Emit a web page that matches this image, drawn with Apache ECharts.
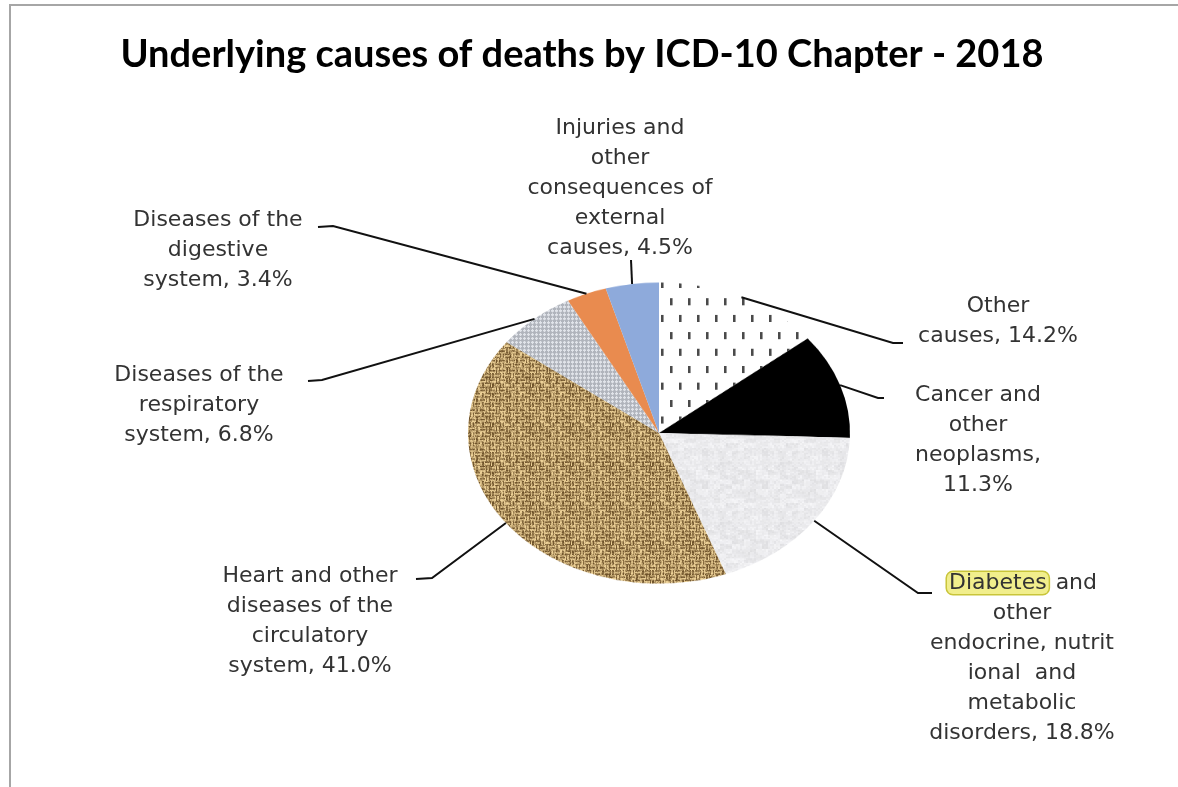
<!DOCTYPE html>
<html><head><meta charset="utf-8">
<script src="https://cdn.jsdelivr.net/npm/echarts@6/dist/echarts.min.js"></script>
<style>
html,body{margin:0;padding:0;background:#fff;width:1178px;height:787px;overflow:hidden;}
#frame{position:absolute;left:9px;top:4px;width:1200px;height:800px;border-top:2px solid #a6a6a6;border-left:2px solid #a6a6a6;}
#pie{position:absolute;left:0;top:0;width:1178px;height:787px;transform-origin:659px 433px;transform:scaleY(0.788);}
#labels{position:absolute;left:0;top:0;width:1178px;height:787px;}
</style></head><body>
<div id="frame"></div><div id="pie"></div><div id="labels"></div>
<script>
// ---- data ----
const titleText = 'Underlying causes of deaths by ICD-10 Chapter - 2018';
const categories = [
  'Other causes',
  'Cancer and other neoplasms',
  'Diabetes and other endocrine, nutritional and metabolic disorders',
  'Heart and other diseases of the circulatory system',
  'Diseases of the respiratory system',
  'Diseases of the digestive system',
  'Injuries and other consequences of external causes'
];
const values = [14.2, 11.3, 18.8, 41.0, 6.8, 3.4, 4.5];
const labelWraps = [
  'Other\ncauses',
  'Cancer and\nother\nneoplasms',
  '{hl|Diabetes} and\nother\nendocrine, nutrit\nional  and\nmetabolic\ndisorders',
  'Heart and other\ndiseases of the\ncirculatory\nsystem',
  'Diseases of the\nrespiratory\nsystem',
  'Diseases of the\ndigestive\nsystem',
  'Injuries and\nother\nconsequences of\nexternal\ncauses'
];
const valueSeps = [' ', '\n', ' ', ' ', ' ', ' ', ' '];

// ---- layout (positions only) ----
const CX = 659, CY = 433, R = 191, K = 0.788;
const labelPlaces = [
  {x: 998, y: 291, elbow: [893, 343], end: [903, 343]},
  {x: 978, y: 380, elbow: [878, 398], end: [884, 398]},
  {x: 1022, y: 568, elbow: [918, 593], end: [932, 593]},
  {x: 310, y: 561, elbow: [432, 578], end: [416, 579]},
  {x: 199, y: 360, elbow: [322, 380], end: [308, 381]},
  {x: 218, y: 205, elbow: [333, 226], end: [318, 227]},
  {x: 620, y: 113, elbow: [631, 260], end: [631, 260]}
];

// ---- texture fills ----
function hash(x, y) { const s = Math.sin(x * 12.9898 + y * 78.233) * 43758.5453; return s - Math.floor(s); }
function makeCanvas(w, h, draw) { const c = document.createElement('canvas'); c.width = w; c.height = h; draw(c.getContext('2d'), w, h); return c; }
function px(g, x, y, r, gg, b) { g.fillStyle = 'rgb(' + (r|0) + ',' + (gg|0) + ',' + (b|0) + ')'; g.fillRect(x, y, 1, 1); }

const dotted = makeCanvas(18, 43, (g, w, h) => {
  g.fillStyle = '#fff'; g.fillRect(0, 0, w, h);
  g.fillStyle = '#4a4a4a'; g.fillRect(4, 4, 2, 9); g.fillRect(13, 25, 2, 9);
  g.fillStyle = '#9a9a9a'; g.fillRect(6, 4, 1, 9); g.fillRect(15, 25, 1, 9);
});
const burlap = makeCanvas(40, 50, (g, w, h) => {
  for (let y = 0; y < h; y++) for (let x = 0; x < w; x++) {
    const bx = Math.floor(x / 5), by = Math.floor(y / 6.25);
    let t;
    if ((bx + by) % 2 === 0) t = (Math.floor(y / 2.1) % 2 === 0) ? 1 : 0.3;
    else t = (Math.floor(x / 1.7) % 2 === 0) ? 1 : 0.3;
    const n = hash(x, y) * 0.6 - 0.35 + (hash(Math.floor(x / 4), Math.floor(y / 5)) - 0.5) * 0.3;
    const f = Math.max(0, Math.min(1, t * 0.85 + n));
    px(g, x, y, 110 + f * 128, 82 + f * 128, 42 + f * 110);
  }
});
const speckle = makeCanvas(60, 76, (g, w, h) => {
  for (let y = 0; y < h; y += 2) for (let x = 0; x < w; x += 2) {
    const v = 222 + (hash(x * 0.37, y * 0.53) + hash(Math.floor(x / 6), Math.floor(y / 6))) * 13;
    g.fillStyle = 'rgb(' + (v|0) + ',' + (v|0) + ',' + Math.min(255, v + 2) + ')';
    g.fillRect(x, y, 2, 2);
  }
});
const checker = makeCanvas(8, 10, (g, w, h) => {
  for (let y = 0; y < h; y++) for (let x = 0; x < w; x++) {
    const yy = y * 0.8;
    const a = Math.floor((x + yy) / 4), b = Math.floor((x - yy + 16) / 4);
    if ((a + b) % 2 === 0) px(g, x, y, 176, 180, 188); else px(g, x, y, 224, 227, 233);
  }
});
const fills = [
  {image: dotted, repeat: 'repeat'},
  '#000000',
  {image: speckle, repeat: 'repeat'},
  {image: burlap, repeat: 'repeat'},
  {image: checker, repeat: 'repeat'},
  '#e98b4f',
  '#8eaadb'
];

// ---- pie (drawn in a vertically squashed layer to get the tilted ellipse) ----
const pieChart = echarts.init(document.getElementById('pie'), null, {renderer: 'canvas'});
pieChart.setOption({
  animation: false,
  series: [{
    type: 'pie', center: [CX, CY], radius: R, startAngle: 90, clockwise: true,
    silent: true, avoidLabelOverlap: false,
    label: {show: false}, labelLine: {show: false},
    itemStyle: {borderWidth: 0},
    data: categories.map((n, i) => ({name: n, value: values[i], itemStyle: {color: fills[i]}}))
  }]
});

// ---- title + labels layer ----
const labelChart = echarts.init(document.getElementById('labels'), null, {renderer: 'canvas'});
labelChart.setOption({
  animation: false,
  graphic: [{
    type: 'text', x: 582, y: 55, silent: true,
    style: {text: titleText, font: 'bold 38px Lato', fill: '#000', align: 'center', verticalAlign: 'middle', textAlign: 'center', textVerticalAlign: 'middle'}
  }],
  series: [{
    type: 'pie', center: [CX, CY], radius: R, startAngle: 90, clockwise: true,
    silent: true, avoidLabelOverlap: false,
    itemStyle: {color: 'rgba(0,0,0,0)'},
    label: {
      show: true, position: 'outer', overflow: 'none',
      fontFamily: 'DejaVu Sans', fontSize: 22, lineHeight: 30, color: '#333333', align: 'center',
      formatter: p => labelWraps[p.dataIndex] + ',' + valueSeps[p.dataIndex] + values[p.dataIndex].toFixed(1) + '%',
      rich: {
        hl: {fontFamily: 'DejaVu Sans', fontSize: 22, lineHeight: 30, color: '#333333',
             backgroundColor: '#f1ee8c', borderColor: '#c9c53a', borderWidth: 1.5, borderRadius: 6, padding: [0, 2]}
      }
    },
    labelLine: {show: true, length: 10, length2: 10, smooth: false, lineStyle: {color: '#111111', width: 2}},
    labelLayout: function (params) {
      const L = labelPlaces[params.dataIndex];
      const p = params.labelLinePoints;
      const a = [p[0][0], CY + (p[0][1] - CY) * K];
      return {x: L.x, y: L.y, align: 'center', verticalAlign: 'top', labelLinePoints: [a, L.elbow, L.end]};
    },
    data: categories.map((n, i) => ({name: n, value: values[i]}))
  }]
});
</script>
</body></html>
